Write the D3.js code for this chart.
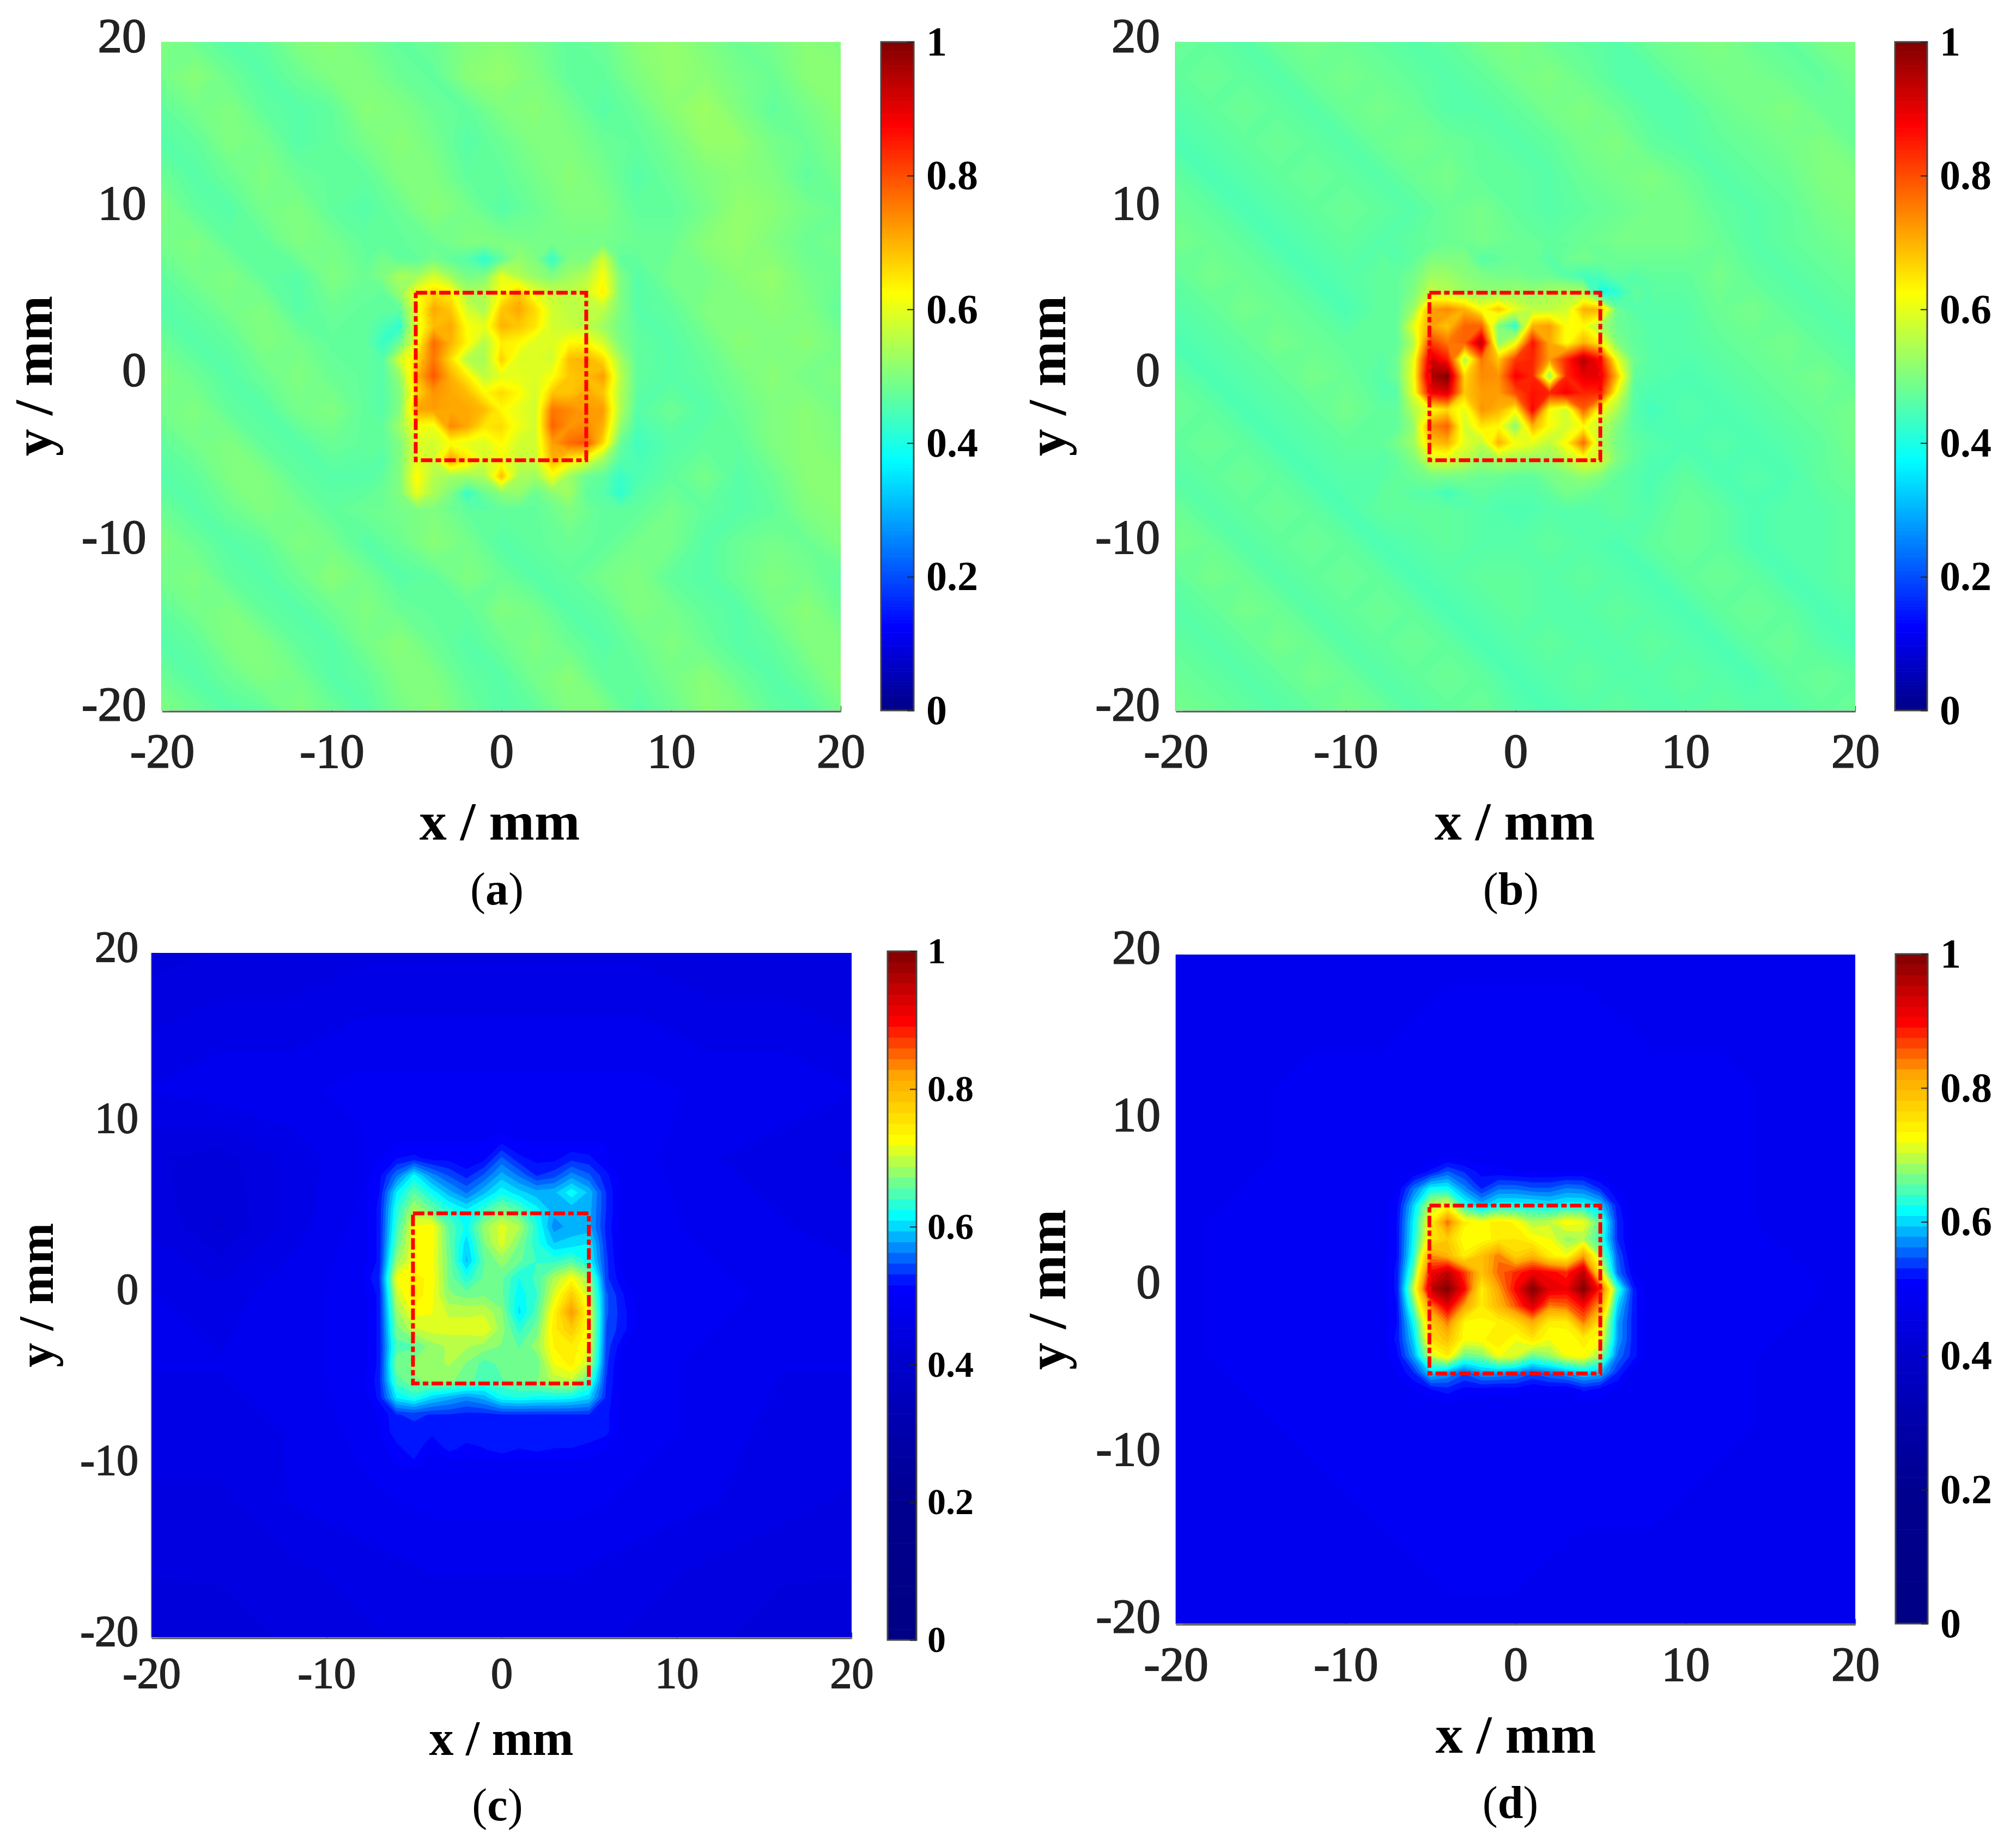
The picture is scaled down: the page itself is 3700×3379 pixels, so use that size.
<!DOCTYPE html>
<html>
<head>
<meta charset="utf-8">
<script src="https://cdn.jsdelivr.net/npm/d3@7"></script>
<style>
  html, body { margin: 0; padding: 0; background: #fff; }
  svg { display: block; }
  text { font-family: "Liberation Serif", serif; }
</style>
</head>
<body>
<svg id="chart" width="3700" height="3379"></svg>
<script>
// values are in percent of the colour bar, rows run top to bottom, columns left to right
const xTicks = [-20, -10, 0, 10, 20];
const yTicks = [-20, -10, 0, 10, 20];
const barTicks = [0, 0.2, 0.4, 0.6, 0.8, 1];

// background, 2 mm nodes from -20 to 20
const bgA = [
  [50,48,46,47,50,51,49,47,48,50,51,49,47,48,51,52,50,48,49,51,50],
  [49,51,48,46,48,50,50,48,47,51,52,50,47,47,50,52,51,49,48,51,51],
  [47,49,50,47,46,47,51,50,48,47,50,51,49,46,48,51,53,50,47,49,51],
  [46,47,50,49,46,47,49,51,49,46,48,50,50,48,47,49,52,52,49,48,50],
  [48,46,48,50,48,47,47,50,50,47,47,49,51,49,46,48,50,51,50,47,49],
  [50,47,46,49,50,47,46,48,51,49,46,48,50,50,47,47,49,52,51,49,48],
  [49,50,47,47,50,49,47,47,48,50,50,49,49,49,48,48,51,52,50,48,49],
  [47,49,50,47,46,50,48,54,58,49,60,52,53,62,46,49,49,51,52,49,48],
  [46,47,49,50,46,48,47,47,71,58,70,68,56,56,46,47,50,50,51,50,47],
  [48,46,47,50,49,47,47,48,77,63,64,59,63,58,47,46,48,51,50,51,49],
  [50,48,46,48,50,48,47,52,79,64,60,59,68,72,47,46,47,49,51,49,50],
  [49,50,47,46,49,50,47,50,72,71,63,58,74,72,46,48,46,48,50,51,49],
  [47,49,50,47,46,48,47,50,58,60,63,58,77,66,44,46,47,47,50,51,50],
  [46,47,50,50,47,46,46,50,55,53,71,53,53,47,45,47,49,46,48,51,51],
  [48,46,48,50,49,47,48,49,50,47,47,47,50,47,47,49,47,46,47,50,51],
  [50,48,46,47,50,49,46,48,51,49,46,47,48,47,49,49,46,48,49,48,50],
  [49,50,47,46,48,51,49,46,47,50,48,46,47,49,50,47,46,48,50,49,47],
  [47,49,50,47,46,48,50,48,47,47,50,49,46,47,50,49,47,46,49,51,48],
  [46,47,50,50,47,46,49,51,48,46,48,50,48,46,48,50,48,46,47,50,50],
  [48,46,48,50,49,46,47,50,50,47,46,49,51,47,47,49,51,48,46,48,51],
  [50,48,46,47,50,48,46,49,51,48,46,47,50,50,46,48,51,50,47,46,49]
];

// spot, 1 mm nodes, x -8 to 8, y 8 to -8
const coreA = [
  [47,47,47,48,48,49,50,50,50,50,49,49,49,49,49,48,48],
  [47,49,47,47,49,47,46,42,47,52,50,43,50,50,58,47,47],
  [48,50,54,53,58,53,49,50,60,55,52,50,53,55,62,50,46],
  [48,47,52,62,66,64,54,55,62,68,60,57,56,58,64,50,46],
  [47,47,47,60,71,68,58,54,68,71,66,58,56,56,56,50,46],
  [47,45,42,60,69,71,62,60,70,68,65,58,57,56,53,49,47],
  [47,43,48,61,77,70,63,55,64,63,59,59,63,63,58,50,47],
  [47,46,58,66,76,66,55,54,67,59,59,58,69,70,66,54,47],
  [47,46,52,69,79,70,64,56,60,60,59,62,68,69,72,56,47],
  [47,46,50,66,73,71,69,63,66,63,58,68,68,71,68,55,47],
  [47,46,50,71,72,71,71,69,63,60,58,76,74,72,72,55,46],
  [47,47,53,62,61,74,71,65,66,61,58,78,73,74,70,52,45],
  [47,47,50,59,58,62,60,59,63,58,58,72,77,79,66,48,44],
  [47,46,50,60,57,72,65,58,61,57,57,70,64,60,53,46,45],
  [46,47,50,63,55,53,53,54,69,54,53,61,53,48,47,43,45],
  [47,48,50,60,54,50,43,48,51,52,48,51,53,47,46,42,46],
  [48,48,49,50,50,48,47,46,47,47,47,48,50,48,47,47,47]
];

const bgB = [
  [48,47,46,48,49,48,47,46,47,49,50,48,47,46,48,49,50,48,47,49,50],
  [47,48,47,46,48,49,48,47,46,47,49,50,48,46,46,48,49,49,48,47,49],
  [46,47,48,47,46,48,49,48,46,46,47,49,50,48,46,46,48,49,50,48,48],
  [45,46,47,48,47,46,48,49,48,47,46,47,49,50,47,46,47,48,49,50,48],
  [47,45,46,47,48,47,46,48,49,47,47,46,48,49,50,48,46,47,48,50,50],
  [48,47,45,46,47,48,47,46,48,49,47,46,47,48,49,49,47,46,47,49,50],
  [49,48,47,45,46,47,46,47,48,49,48,47,48,49,49,49,48,46,47,48,49],
  [47,49,48,47,45,46,47,49,53,50,49,48,44,47,47,47,49,47,46,47,48],
  [46,47,49,48,47,45,47,53,74,62,60,56,70,48,46,46,48,49,47,46,47],
  [45,46,47,49,48,47,47,53,76,95,61,71,70,50,46,46,47,48,49,47,46],
  [47,45,46,47,49,48,46,58,100,74,88,52,90,68,46,45,46,47,48,49,47],
  [48,47,45,46,47,49,47,53,66,73,63,62,78,54,44,46,45,46,47,48,49],
  [47,48,47,45,46,47,47,53,70,56,62,56,77,49,46,45,46,45,46,47,49],
  [46,47,48,47,45,46,46,48,49,48,47,49,52,47,45,47,45,46,45,47,48],
  [48,46,47,48,47,45,47,47,47,46,45,46,46,47,46,48,47,45,46,46,47],
  [49,48,46,47,48,47,45,46,47,46,46,47,46,45,47,48,47,45,46,46,47],
  [47,49,48,46,47,48,47,45,46,47,47,46,47,46,45,47,48,47,45,46,47],
  [46,47,49,48,46,47,48,47,45,46,47,46,46,47,46,45,47,48,47,45,46],
  [47,46,47,49,48,46,47,48,47,45,46,47,46,46,47,46,45,47,48,46,45],
  [48,47,46,47,49,48,46,47,48,47,45,46,47,46,46,47,46,45,47,48,47],
  [49,48,47,46,47,49,48,46,47,48,46,45,46,47,46,46,47,46,46,47,48]
];

const coreB = [
  [46,46,47,47,48,48,49,48,48,48,47,47,48,48,49,49,49],
  [47,46,47,50,50,50,46,47,48,48,46,48,49,48,48,48,48],
  [47,47,49,53,53,51,50,49,49,48,48,46,44,45,47,46,47],
  [47,47,50,57,55,53,52,52,53,52,54,55,55,39,42,47,46],
  [47,47,53,72,74,70,62,68,60,56,56,58,70,70,48,46,46],
  [47,47,60,72,68,78,78,50,42,70,72,62,63,54,48,47,46],
  [47,47,55,82,76,78,95,52,61,86,71,62,70,64,50,47,46],
  [46,48,60,92,85,55,76,68,82,84,72,84,95,86,60,48,46],
  [46,48,61,96,100,66,74,73,88,84,52,84,90,90,68,47,46],
  [46,46,60,88,91,68,72,72,80,86,84,88,84,84,60,46,45],
  [47,47,55,62,66,60,73,70,63,88,62,58,78,62,54,46,44],
  [47,47,52,74,78,58,65,63,51,70,62,58,63,56,50,46,45],
  [47,49,53,68,70,60,56,70,62,60,56,63,77,55,49,47,46],
  [46,47,50,58,59,56,52,54,53,52,52,56,60,58,50,47,45],
  [46,47,48,49,49,49,48,48,47,47,49,50,52,50,47,46,45],
  [47,47,46,46,44,46,47,46,46,46,47,49,48,47,47,46,45],
  [47,47,47,47,47,46,46,45,45,45,46,46,46,46,47,46,46]
];

// background, 4 mm nodes from -20 to 20
const bgC = [
  [43,44,44,45,45,45,45,45,44,44,44],
  [45,46,46,47,47,47,47,47,46,46,45],
  [47,48,48,49,49,49,49,49,48,48,47],
  [44,43,46,48,49,49,49,49,47,46,45],
  [45,42,46,49,50,50,50,49,48,47,46],
  [47,46,48,49,50,50,50,49,49,48,48],
  [47,47,48,49,50,50,50,49,48,47,47],
  [46,46,47,49,50,50,50,49,48,46,46],
  [45,45,47,48,49,49,49,48,47,46,45],
  [44,44,45,46,47,47,47,46,45,44,44],
  [42,43,44,45,46,46,46,45,44,43,42]
];

// spot, 1 mm nodes, x -8 to 8, y 10 to -10
const coreC = [
  [49,49,49,49,49,49,49,49,49,49,49,49,49,49,49,49,49],
  [49,49,50,50,50,50,50,50,51,50,50,50,50,50,50,49,49],
  [49,50,51.5,52,51,51,50,51,55,52,51,51,52.5,52,50,49,49],
  [49,51,56,61.5,57,54.5,52.5,55,58.5,56,53,54,57,55,52,49,49],
  [49,51.5,61,65.5,62,58.5,56,59,62,60,58.5,59,62,59,53,49,49],
  [49,52,63,69,66,63,61,64,67,65,61.5,58.5,58.5,58.5,53,49,49],
  [49,52,64,72,73,65.5,62,68,71,69,63,57,58.5,58.5,52.5,49,49],
  [49,52,65.5,72,73,66,60,67,71,67,63,59.5,60,61,53,49,49],
  [49,52,68,72,72.5,66.5,59,65.5,68,66,64,63.5,65,62,53.5,49,49],
  [50,53,72,74,73,66.5,63,66,66,62.5,64.5,69,72.5,68,53.5,50,49],
  [49,52,70,74.5,72.5,67.5,66.5,67,66,61.5,64,71,78,70,55,51.5,49],
  [49,52,68,72.5,72,70,70,70,67.5,60.5,65,73.5,83,72,55,52,49],
  [49,52,66.5,70,71,71,71,72,68,63.5,66.5,74.5,78,72,54.5,52,49],
  [49,52,65,65.5,68,69,69,68,67,65.5,68,73.5,74.5,71.5,54,50,49],
  [49,52,66.5,67.5,68,69,67,65,66,66,66,72,74,70,53.5,49,49],
  [49,52.5,65,67,67.5,67.5,66.5,64.5,65.5,66.5,67,69.5,70,65,53,49,49],
  [49,52,61,63,60,58.5,57,58.5,62,62.5,62,62,61.5,60,52.5,49,49],
  [49,50,53,53.5,53,53,52.5,52.5,53,53,53,53,53,53,52,49,49],
  [49,50,52.5,52.5,52,52.5,52.5,52.5,52.5,52.5,52.5,52.5,52.5,52.5,52,49,49],
  [49,49,51,52.5,50,52,51,51.5,52.5,51.5,52,51.5,51.5,51,50,49,49],
  [49,49,50,51,49,49,49,49,49,49,49,49,49,49,49,49,49]
];

const bgD = [
  [47,47,48,48,48,48,48,48,48,47,47],
  [47,48,48,48,49,49,49,48,48,48,47],
  [48,48,49,49,49,49,49,49,49,48,48],
  [48,48,49,49,49,49,49,49,49,48,48],
  [48,49,49,49,49,49,49,49,49,48,48],
  [48,49,49,49,49,49,49,49,49,49,48],
  [48,49,49,49,49,49,49,49,49,48,48],
  [48,48,49,49,49,49,49,49,49,48,48],
  [48,48,48,49,49,49,49,49,48,48,47],
  [47,48,48,48,49,49,48,48,48,47,47],
  [47,47,48,48,48,48,48,47,47,47,47]
];

const coreD = [
  [49,49,49,49,49,49,49,49,49,49,49,49,49,49,49,49,49],
  [49,49,50,52,55,53,51,50.5,50,50,50,50,50,49,49,49,49],
  [49,50,56,62,62,57,53,56,56,55,55,56.5,56,53,50,49,49],
  [49,51,60,70,72,63,59,62,62,62,61,62,62,60,52,49,49],
  [49,51.5,61.5,74,85,74,72.5,74.5,73,69,70,73,72,65,53,49,49],
  [49,51.5,62,75,78,72,72,74.5,75,73,72,68,69,64,53,49,49],
  [49,51.5,63,83,80,74,79,84,77,80,74,72,82,68,55,49,49],
  [49,52,66,90,95,87,79,85,88,91,90,88,95,74,56,50,49],
  [49,52,70,95,100,90,74,82,90,100,92,91,100,88,64,52,49],
  [49,51.5,66,84,92,82,74.5,80,86,93,84,85,90,82,60,52,49],
  [49,51.5,62,78,84,73,73,73.5,76,81,74,74,84,75,58,52,49],
  [49,52,60,76,79,72.5,73,75,72,75,72,72.5,74,72.5,58,52,49],
  [49,51,58,70,74,66,67,72,71,66,68,72,73,68,56,52,49],
  [49,50,53,60,58,55,58,58,57,55,56.5,58,60,59,53,49,49],
  [49,49,50,51.5,52.5,51,51,50.5,51,50,50.5,50,52,51,50,49,49],
  [49,49,49,49,49,49,49,49,49,49,49,49,49,49,49,49,49],
  [49,49,49,49,49,49,49,49,49,49,49,49,49,49,49,49,49]
];

// dashed square [x0, x1, y0, y1] in mm
const boxA = [-5.05, 5, 5, -5.03];
const boxB = [-5.07, 4.99, 5, -5.03];
const boxC = [-5.06, 4.99, 4.78, -5.17];
const boxD = [-5.07, 4.99, 4.99, -5.05];

const jet = d3.scaleLinear()
  .domain([0, 0.125, 0.375, 0.625, 0.875, 1])
  .range(['#000084', '#0000ff', '#00ffff', '#ffff00', '#ff0000', '#800000'])
  .clamp(true);

// the lower panels use a stretched map
const stretched = d3.scaleLinear()
  .domain([0, 0.2, 0.3, 0.4, 0.515, 0.616, 0.725, 0.82, 0.898, 1])
  .range(['#000084', '#00008f', '#0000aa', '#0000cd', '#0000ff', '#00ffff', '#ffff00', '#ffa500', '#ff0000', '#800000'])
  .clamp(true);

const panels = [
  { name: 'a', bg: bgA, bgStep: 2, core: coreA, coreTop: 8, box: boxA, color: jet, levels: 256,
    plot: [297.5, 1543, 77, 1304], bar: [1617, 1677, 77, 1304],
    tickFont: 89, barFont: 76, labelFont: 100, capFont: 84, xPad: 41, yPad: 29, barPad: 23, tickShift: -11,
    xLabel: [917, 1541], yLabel: [95, 690], cap: [912, 1660] },
  { name: 'b', bg: bgB, bgStep: 2, core: coreB, coreTop: 8, box: boxB, color: jet, levels: 256,
    plot: [2158, 3405, 77, 1304], bar: [3478, 3537, 77, 1304],
    tickFont: 89, barFont: 76, labelFont: 100, capFont: 84, xPad: 41, yPad: 29, barPad: 23, tickShift: -11,
    xLabel: [2780, 1541], yLabel: [1955, 690], cap: [2773, 1660] },
  { name: 'c', bg: bgC, bgStep: 4, core: coreC, coreTop: 10, box: boxC, color: stretched, levels: 64,
    plot: [278, 1563, 1749, 3005], bar: [1629, 1682, 1746, 3010],
    tickFont: 80, barFont: 68, labelFont: 90, capFont: 84, xPad: 36, yPad: 24, barPad: 20, tickShift: -10,
    xLabel: [920, 3221], yLabel: [97, 2377], cap: [913, 3341] },
  { name: 'd', bg: bgD, bgStep: 4, core: coreD, coreTop: 8, box: boxD, color: stretched, levels: 64,
    plot: [2158, 3405, 1752, 2980], bar: [3479, 3538, 1751, 2980],
    tickFont: 89, barFont: 76, labelFont: 100, capFont: 84, xPad: 41, yPad: 28, barPad: 23, tickShift: -13,
    xLabel: [2782, 3217], yLabel: [1955, 2367], cap: [2772, 3337] }
];

const svg = d3.select('#chart');

// one filled contour per colour level, nested so there are no seams
function drawField(g, rows, xFirst, yFirst, step, p, x, y) {
  const ny = rows.length;
  const nx = rows[0].length;
  const flat = rows.flat().map(d => d / 100);
  const thresholds = d3.range(p.levels).map(i => i / p.levels);
  const contours = d3.contours().size([nx, ny]).thresholds(thresholds)(flat);
  const path = d3.geoPath(d3.geoTransform({
    point(px, py) {
      this.stream.point(x(xFirst + (px - 0.5) * step), y(yFirst - (py - 0.5) * step));
    }
  }));
  g.selectAll(null)
    .data(contours.filter(c => c.coordinates.length > 0))
    .enter()
    .append('path')
    .attr('d', path)
    .attr('fill', c => p.color(c.value + 0.5 / p.levels));
}

panels.forEach(p => {
  const [left, right, top, bottom] = p.plot;
  const x = d3.scaleLinear().domain([-20, 20]).range([left, right]);
  const y = d3.scaleLinear().domain([-20, 20]).range([bottom, top]);

  const root = svg.append('g').attr('class', 'panel-' + p.name);

  // axes go first, the field covers the inner part of the ticks
  const xAxis = root.append('g')
    .attr('transform', `translate(0,${bottom + 1.5})`)
    .call(d3.axisBottom(x).tickValues(xTicks).tickFormat(String).tickSize(-10).tickSizeOuter(0).tickPadding(p.xPad - 1.5));
  const yAxis = root.append('g')
    .attr('transform', `translate(${left - 1},0)`)
    .call(d3.axisLeft(y).tickValues(yTicks).tickFormat(String).tickSize(-14).tickSizeOuter(0).tickPadding(p.yPad - 1));
  xAxis.select('.domain').attr('stroke', '#555').attr('stroke-width', 3);
  yAxis.select('.domain').attr('stroke', '#bbb').attr('stroke-width', 2);
  xAxis.selectAll('line').attr('stroke', '#555').attr('stroke-width', 1.5);
  yAxis.selectAll('line').attr('stroke', '#bbb').attr('stroke-width', 1.5);
  root.selectAll('.tick text')
    .attr('font-family', '"Liberation Serif", serif')
    .attr('font-size', p.tickFont)
    .attr('fill', '#222')
    .attr('stroke', '#222')
    .attr('stroke-width', 1.8);
  yAxis.selectAll('text').attr('y', p.tickShift);

  // heat map
  const clipId = 'plot-' + p.name;
  const coreId = 'core-' + p.name;
  const defs = root.append('defs');
  defs.append('clipPath').attr('id', clipId).append('rect')
    .attr('x', left).attr('y', top).attr('width', right - left).attr('height', bottom - top);
  const coreBottom = p.coreTop - (p.core.length - 1);
  defs.append('clipPath').attr('id', coreId).append('rect')
    .attr('x', x(-8)).attr('y', y(p.coreTop))
    .attr('width', x(8) - x(-8)).attr('height', y(coreBottom) - y(p.coreTop));

  const field = root.append('g').attr('clip-path', `url(#${clipId})`);
  drawField(field.append('g'), p.bg, -20, 20, p.bgStep, p, x, y);
  drawField(field.append('g').attr('clip-path', `url(#${coreId})`), p.core, -8, p.coreTop, 1, p, x, y);

  // dashed square
  root.append('rect')
    .attr('x', x(p.box[0]))
    .attr('y', y(p.box[2]))
    .attr('width', x(p.box[1]) - x(p.box[0]))
    .attr('height', y(p.box[3]) - y(p.box[2]))
    .attr('fill', 'none')
    .attr('stroke', '#ff0000')
    .attr('stroke-width', 7)
    .attr('stroke-dasharray', '21 6 10 6');

  // colour bar
  const [barLeft, barRight, barTop, barBottom] = p.bar;
  const barY = d3.scaleLinear().domain([0, 1]).range([barBottom, barTop]);
  const bins = d3.range(p.levels);
  root.append('g').selectAll('rect')
    .data(bins)
    .enter()
    .append('rect')
    .attr('x', barLeft)
    .attr('width', barRight - barLeft)
    .attr('y', i => barY((i + 1) / p.levels))
    .attr('height', i => barY(i / p.levels) - barY((i + 1) / p.levels) + 0.6)
    .attr('fill', i => p.color((i + 0.5) / p.levels));
  root.append('rect')
    .attr('x', barLeft).attr('y', barTop)
    .attr('width', barRight - barLeft).attr('height', barBottom - barTop)
    .attr('fill', 'none').attr('stroke', '#444').attr('stroke-width', 3);
  const barAxis = root.append('g')
    .attr('transform', `translate(${barRight},0)`)
    .call(d3.axisRight(barY).tickValues(barTicks).tickFormat(String).tickSize(-12).tickSizeOuter(0).tickPadding(p.barPad));
  barAxis.select('.domain').remove();
  barAxis.selectAll('line').attr('stroke', '#222').attr('stroke-width', 2);
  barAxis.selectAll('text')
    .attr('font-family', '"Liberation Serif", serif')
    .attr('font-size', p.barFont)
    .attr('font-weight', 'bold')
    .attr('stroke', 'none')
    .attr('fill', '#000');

  // labels
  root.append('text')
    .attr('x', p.xLabel[0]).attr('y', p.xLabel[1])
    .attr('text-anchor', 'middle')
    .attr('font-size', p.labelFont).attr('font-weight', 'bold')
    .text('x / mm');
  root.append('text')
    .attr('transform', `translate(${p.yLabel[0]},${p.yLabel[1]}) rotate(-90)`)
    .attr('text-anchor', 'middle')
    .attr('font-size', p.labelFont).attr('font-weight', 'bold')
    .text('y / mm');
  const cap = root.append('text')
    .attr('x', p.cap[0]).attr('y', p.cap[1])
    .attr('text-anchor', 'middle')
    .attr('font-size', p.capFont);
  cap.append('tspan').text('(');
  cap.append('tspan').attr('font-weight', 'bold').text(p.name);
  cap.append('tspan').text(')');
});
</script>
</body>
</html>
